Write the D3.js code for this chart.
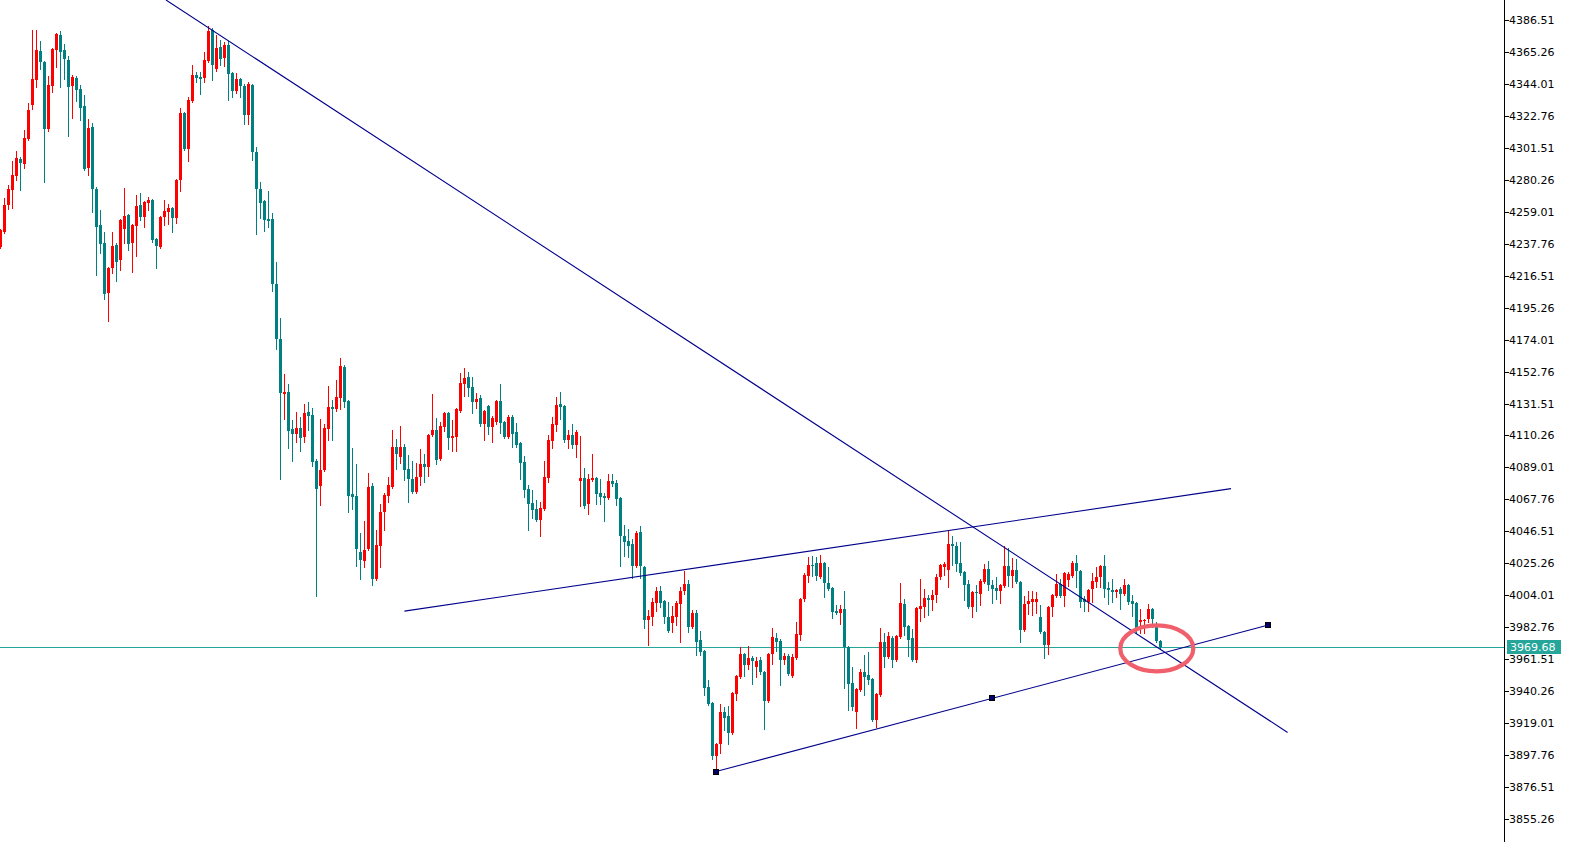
<!DOCTYPE html>
<html>
<head>
<meta charset="utf-8">
<script src="https://cdn.jsdelivr.net/npm/d3@7"></script>
<style>
  html, body { margin: 0; padding: 0; background: #ffffff; overflow: hidden; }
  svg { display: block; }
</style>
</head>
<body>
<svg id="chart" width="1573" height="842"></svg>
<script>
// ---------------- DATA ----------------
const openPrices = [
4235.5,4245.5,4263.5,4273.4,4282.8,4294.1,4290.7,4307.4,4330.0,4346.6,
4365.9,4358.6,4314.0,4342.6,4366.6,4376.5,4366.6,4359.9,4342.6,4347.9,
4340.6,4329.3,4288.1,4315.3,4274.1,4250.2,4238.2,4204.9,4221.6,4236.9,
4226.9,4247.5,4256.8,4238.2,4249.5,4263.5,4255.5,4264.8,4266.8,4240.9,
4235.5,4255.5,4258.8,4261.5,4254.8,4280.1,4324.7,4300.7,4332.6,4349.9,
4348.6,4347.9,4359.2,4379.9,4353.9,4368.5,4361.2,4369.9,4351.3,4339.3,
4347.3,4342.6,4323.3,4343.3,4298.7,4274.1,4266.2,4254.2,4254.2,4210.9,
4174.4,4137.8,4139.1,4114.5,4111.2,4115.2,4109.2,4125.8,4123.8,4093.2,
4076.6,4087.2,4114.5,4129.1,4127.8,4135.1,4155.7,4133.1,4071.3,4070.0,
4032.7,4026.7,4034.7,4076.6,4014.8,4036.7,4059.3,4070.0,4075.9,4102.5,
4095.9,4102.5,4087.9,4081.3,4072.6,4082.6,4091.2,4089.2,4110.5,4113.8,
4094.6,4115.8,4125.2,4108.5,4109.2,4126.5,4144.4,4149.1,4142.5,4132.5,
4135.1,4117.8,4129.8,4115.8,4119.2,4133.1,4119.2,4109.2,4122.5,4112.5,
4105.2,4092.6,4074.6,4065.3,4061.3,4054.0,4061.3,4081.9,4106.5,4117.2,
4131.1,4129.8,4107.2,4110.5,4103.9,4079.9,4081.9,4064.6,4080.6,4081.9,
4071.9,4070.0,4068.6,4079.9,4078.6,4068.6,4043.4,4040.0,4038.0,4023.4,
4046.0,4022.7,3987.5,3989.5,3998.8,4006.8,4000.1,3989.5,3985.5,3989.5,
3998.1,4006.8,4011.4,3982.8,3992.1,3974.2,3966.9,3942.9,3932.3,3897.1,
3905.0,3926.3,3923.7,3912.3,3938.3,3949.6,3964.9,3957.6,3962.2,3956.2,
3960.9,3952.9,3933.6,3964.9,3975.5,3973.5,3960.9,3963.6,3950.3,3962.2,
3977.5,4001.5,4016.8,4024.1,4025.4,4016.1,4025.4,4012.1,4008.8,3993.5,
3992.2,3994.8,3969.5,3945.6,3926.3,3940.9,3952.9,3950.9,3948.3,3921.0,
3937.6,3972.8,3962.9,3975.5,3960.9,3976.2,3998.1,3983.5,3975.5,3960.9,
3994.8,3996.1,4002.1,4000.8,4004.1,4016.1,4022.7,4020.7,4038.0,4036.7,
4025.4,4019.4,4011.4,3996.1,4006.1,4004.8,4012.8,4021.4,4010.8,4008.8,
4006.8,4010.1,4023.4,4016.8,4020.7,4012.8,3980.8,3998.1,3999.5,3999.5,
3989.5,3979.5,3970.8,3996.1,4003.5,4011.4,4003.5,4014.1,4016.8,4025.4,
4020.1,4001.5,3999.5,4008.1,4012.8,4016.1,4023.4,4008.8,4007.5,4006.1,
4008.1,4004.8,4010.8,4000.1,3998.8,3986.2,3986.9,3988.1,3994.8,3984.8,
3973.5
];
const highPrices = [
4247.5,4268.1,4276.8,4292.7,4299.4,4295.4,4313.3,4331.3,4379.9,4379.9,
4372.5,4359.2,4349.3,4367.8,4377.9,4379.2,4370.5,4362.6,4349.9,4349.3,
4343.3,4336.6,4320.7,4318.0,4275.4,4260.2,4245.5,4222.2,4245.5,4238.2,
4254.0,4274.8,4257.4,4250.8,4270.1,4271.5,4266.2,4268.8,4267.5,4241.5,
4256.1,4266.8,4264.1,4262.1,4280.7,4328.0,4325.3,4335.3,4356.6,4351.9,
4351.9,4365.2,4382.5,4381.2,4376.5,4373.2,4371.9,4372.5,4351.9,4351.3,
4347.9,4343.9,4345.3,4343.9,4302.0,4278.8,4266.8,4272.8,4258.2,4225.6,
4188.3,4151.1,4144.4,4120.5,4125.8,4122.5,4131.1,4132.5,4128.5,4094.6,
4121.2,4117.8,4143.1,4133.8,4147.1,4161.7,4157.1,4133.8,4101.9,4091.2,
4045.3,4053.3,4085.3,4078.6,4047.4,4064.6,4071.9,4082.6,4113.8,4107.9,
4116.5,4104.5,4097.2,4093.2,4091.9,4101.2,4097.9,4111.1,4137.8,4121.8,
4119.2,4125.8,4125.8,4120.5,4128.4,4151.8,4155.1,4152.4,4149.1,4138.5,
4137.1,4127.1,4130.4,4123.2,4133.8,4144.4,4119.8,4123.8,4123.8,4118.5,
4105.8,4096.6,4077.3,4073.9,4067.3,4066.0,4093.2,4110.5,4122.5,4135.8,
4139.1,4130.4,4113.8,4117.8,4113.8,4109.9,4088.5,4084.6,4097.9,4082.6,
4081.3,4071.9,4084.6,4084.6,4080.6,4069.3,4050.7,4048.0,4041.4,4046.7,
4050.0,4023.4,3994.1,4002.1,4009.5,4010.1,4000.7,3999.5,3996.8,4000.1,
4009.5,4020.1,4014.1,3994.1,3994.1,3980.2,3967.5,3947.6,3932.9,3905.6,
3931.6,3929.6,3930.3,3939.6,3950.9,3969.5,3965.5,3970.2,3963.6,3962.9,
3962.9,3953.6,3965.5,3982.2,3978.9,3974.9,3965.5,3964.9,3964.9,3986.2,
4002.1,4018.8,4029.4,4030.1,4029.4,4030.7,4026.0,4022.7,4009.4,3997.5,
3997.5,4006.8,3970.1,3956.2,3942.2,3954.9,3964.2,3966.2,3948.9,3938.9,
3982.2,3978.9,3979.5,3976.9,3977.5,4012.1,4001.5,3984.1,3981.5,3996.1,
4014.8,4008.1,4004.1,4007.5,4018.1,4024.7,4026.1,4046.7,4043.4,4039.4,
4039.4,4020.1,4014.1,4006.8,4010.8,4014.8,4024.7,4026.7,4014.1,4016.1,
4011.4,4036.7,4035.4,4028.7,4028.1,4013.4,4003.5,4006.8,4006.8,4006.1,
3997.5,3980.2,3996.8,4004.7,4018.1,4014.8,4019.4,4019.4,4026.7,4030.7,
4020.7,4003.5,4008.1,4018.8,4022.7,4024.1,4030.7,4012.8,4014.8,4008.1,
4009.5,4014.8,4011.4,4004.1,3999.5,3994.8,3988.1,3998.1,3995.5,3986.2,
3974.2
];
const lowPrices = [
4234.9,4244.9,4260.8,4261.5,4280.1,4273.4,4288.1,4306.8,4327.3,4341.9,
4353.9,4278.8,4312.7,4338.6,4355.2,4341.9,4347.3,4309.4,4321.3,4332.6,
4320.0,4286.7,4283.4,4258.8,4216.9,4231.6,4201.0,4186.3,4218.3,4212.9,
4220.3,4238.2,4233.5,4218.9,4229.6,4253.5,4248.9,4260.2,4238.9,4221.6,
4234.9,4250.2,4250.8,4245.5,4251.5,4272.8,4300.1,4292.7,4332.0,4345.3,
4337.3,4345.3,4358.6,4346.6,4352.6,4356.6,4355.9,4333.3,4335.3,4337.9,
4335.3,4317.3,4317.3,4293.4,4244.2,4254.8,4246.2,4248.9,4206.3,4167.7,
4081.3,4121.2,4101.9,4093.2,4105.9,4099.9,4105.9,4113.8,4089.9,4003.5,
4064.0,4086.6,4107.2,4107.2,4126.5,4127.8,4129.1,4059.3,4061.3,4023.4,
4014.8,4022.7,4034.1,4010.8,4014.1,4022.7,4047.4,4066.0,4075.3,4087.9,
4091.9,4080.6,4066.0,4071.9,4071.9,4077.3,4079.3,4083.3,4109.9,4091.2,
4093.9,4113.2,4101.2,4099.9,4099.9,4125.8,4136.5,4136.5,4125.2,4128.5,
4116.5,4107.2,4111.2,4105.9,4117.8,4111.9,4108.6,4108.5,4102.5,4102.5,
4081.3,4069.3,4047.4,4055.3,4053.3,4043.4,4060.6,4079.3,4101.9,4113.2,
4121.2,4105.9,4101.9,4101.9,4095.9,4063.3,4062.0,4058.0,4080.0,4064.6,
4064.6,4053.3,4068.0,4076.6,4064.0,4023.4,4030.1,4029.4,4015.4,4022.8,
4015.4,3982.2,3970.8,3984.2,3993.5,3996.1,3985.5,3979.5,3979.5,3984.2,
3972.8,4004.8,3979.5,3982.2,3964.1,3964.1,3937.6,3931.0,3895.1,3887.2,
3899.1,3914.4,3905.0,3911.7,3934.3,3949.0,3950.3,3954.9,3944.9,3949.6,
3951.6,3915.0,3933.0,3958.2,3966.9,3944.3,3958.2,3950.9,3949.7,3961.6,
3974.2,4000.1,4012.8,4016.8,4014.1,4015.5,4002.8,4007.5,3988.8,3991.5,
3984.8,3942.3,3927.7,3927.7,3915.7,3940.3,3937.6,3944.9,3920.4,3916.4,
3937.0,3956.2,3962.3,3956.2,3960.3,3975.6,3977.5,3963.6,3960.3,3959.6,
3986.8,3989.5,3990.8,3994.1,3999.5,4014.8,4017.4,4009.5,4024.1,4020.1,
4017.4,4000.8,3995.5,3989.5,3993.5,3997.5,4012.1,4007.5,3998.8,4001.5,
3998.8,4009.5,4010.1,4009.5,4012.1,3972.8,3980.2,3991.5,3990.8,3992.2,
3978.9,3962.2,3964.9,3990.1,4002.9,4002.9,3996.8,4010.1,4016.1,4009.5,
3996.1,3993.5,3993.5,3999.5,4009.5,4009.5,4002.8,3998.1,3999.5,4002.8,
3994.8,4004.1,3998.1,3990.1,3978.9,3978.9,3978.9,3986.2,3982.8,3972.8,
3968.9
];
const closePrices = [
4246.9,4263.5,4274.1,4283.4,4294.7,4291.4,4308.0,4326.7,4347.3,4366.6,
4358.6,4314.0,4343.3,4367.2,4377.2,4365.2,4360.6,4341.9,4348.6,4339.9,
4328.0,4287.4,4314.7,4274.1,4248.9,4237.5,4204.3,4221.6,4236.2,4225.6,
4253.5,4256.2,4237.5,4250.2,4262.8,4255.5,4265.5,4266.8,4240.2,4236.2,
4255.5,4259.5,4261.5,4254.8,4280.1,4324.7,4300.7,4333.3,4349.9,4347.9,
4347.3,4359.9,4379.2,4356.6,4367.9,4360.6,4369.9,4350.6,4339.3,4347.3,
4342.6,4323.3,4343.9,4298.7,4274.1,4264.8,4253.5,4252.8,4210.9,4174.4,
4138.5,4139.1,4113.2,4111.2,4115.2,4108.5,4125.2,4123.2,4092.6,4074.6,
4087.2,4115.2,4129.1,4127.8,4135.8,4156.4,4132.5,4070.0,4069.3,4034.7,
4027.4,4034.1,4075.9,4014.8,4037.4,4059.3,4070.6,4077.3,4102.5,4097.9,
4102.5,4087.2,4081.3,4072.6,4082.6,4091.2,4089.2,4110.5,4113.8,4093.9,
4116.5,4125.2,4108.5,4109.9,4127.8,4145.1,4148.4,4141.8,4132.5,4134.5,
4117.8,4126.5,4115.8,4121.8,4133.1,4118.5,4109.2,4122.5,4111.2,4103.9,
4091.9,4073.9,4064.6,4060.6,4054.0,4062.0,4082.6,4107.2,4117.8,4130.5,
4129.1,4107.2,4110.5,4103.9,4112.5,4081.9,4063.3,4081.3,4081.9,4071.3,
4069.3,4068.6,4079.9,4077.9,4068.0,4043.4,4039.4,4036.7,4023.4,4045.3,
4023.4,3987.5,3990.1,3999.5,4006.8,3998.8,3989.5,3980.2,3990.1,3998.8,
4006.8,4011.4,3982.8,3992.1,3972.8,3966.2,3942.3,3931.6,3897.1,3905.0,
3926.3,3922.3,3912.3,3938.9,3950.3,3964.9,3957.6,3962.2,3960.2,3960.2,
3952.9,3933.6,3964.9,3976.2,3972.8,3960.9,3963.6,3951.6,3962.9,3978.2,
4001.5,4017.4,4024.1,4023.4,4016.8,4025.4,4012.1,4008.1,3992.8,3992.2,
3994.8,3969.5,3944.9,3929.6,3941.6,3952.9,3949.6,3947.6,3921.0,3938.3,
3972.8,3962.9,3976.9,3960.9,3976.9,3998.8,3982.8,3974.2,3960.9,3995.5,
3996.8,4002.1,4000.8,4004.1,4016.1,4024.1,4024.7,4038.0,4036.7,4024.7,
4018.8,4010.8,3996.1,4006.1,4005.5,4013.4,4021.4,4010.8,4008.1,4006.8,
4010.8,4023.4,4016.8,4020.7,4012.8,3980.8,3998.1,4000.1,4001.5,4001.5,
3979.5,3970.8,3996.1,4004.1,4011.4,4003.5,4018.8,4018.1,4025.4,4020.1,
3999.5,3999.5,4007.5,4013.4,4016.1,4023.4,4008.1,4007.5,4006.1,4007.5,
4004.8,4010.8,3999.5,3998.1,3980.8,3987.5,3987.5,3994.8,3988.1,3973.5,
3969.68
];

const yTickLabels = [
"4386.51","4365.26","4344.01","4322.76","4301.51","4280.26","4259.01",
"4237.76","4216.51","4195.26","4174.01","4152.76","4131.51","4110.26",
"4089.01","4067.76","4046.51","4025.26","4004.01","3982.76","3961.51",
"3940.26","3919.01","3897.76","3876.51","3855.26"
];
const currentPrice = 3969.68;

// trend lines: anchors as [bar index, price]
const downTrend   = [[41.5, 4399.8], [321.9, 3912.8]];
const upperTrend  = [[101.1, 3993.5], [307.75, 4074.9]];
const lowerTrend  = [[179, 3886.8], [248.05, 3935.5], [317.1, 3984.2]];
const highlightAt = [289.2, 3968.7];

// ---------------- CHART ----------------
const W = 1573, H = 842;
const axisX = 1504;
const svg = d3.select("#chart");

const x = d3.scaleLinear().domain([0, 290]).range([0, 1160]);
const y = d3.scaleLinear().domain([3855.26, 4386.51]).range([819, 20]);

const UP = "#ff0000", DOWN = "#008080";
const LINE = "#00008b";
const PRICE = "#26a69a";

const plot = svg.append("g");
plot.append("clipPath").attr("id", "plotClip")
  .append("rect").attr("x", 0).attr("y", 0).attr("width", axisX).attr("height", H);
const g = plot.append("g").attr("clip-path", "url(#plotClip)");

// current price line
g.append("line")
  .attr("x1", 0).attr("x2", axisX)
  .attr("y1", Math.round(y(currentPrice)) + 0.5).attr("y2", Math.round(y(currentPrice)) + 0.5)
  .attr("stroke", PRICE).attr("stroke-width", 1);

// candles
const candles = d3.range(openPrices.length).map(i => ({
  i, o: openPrices[i], h: highPrices[i], l: lowPrices[i], c: closePrices[i]
}));
const cg = g.append("g").attr("shape-rendering", "crispEdges");
cg.selectAll("rect.wick").data(candles).join("rect")
  .attr("class", "wick")
  .attr("x", d => Math.round(x(d.i)))
  .attr("width", 1)
  .attr("y", d => Math.round(y(d.h)))
  .attr("height", d => Math.max(1, Math.round(y(d.l)) - Math.round(y(d.h)) + 1))
  .attr("fill", d => d.c >= d.o ? UP : DOWN);
cg.selectAll("rect.body").data(candles).join("rect")
  .attr("class", "body")
  .attr("x", d => Math.round(x(d.i)) - 1)
  .attr("width", 3)
  .attr("y", d => Math.round(y(Math.max(d.o, d.c))))
  .attr("height", d => Math.max(1, Math.round(y(Math.min(d.o, d.c))) - Math.round(y(Math.max(d.o, d.c)))))
  .attr("fill", d => d.c >= d.o ? UP : DOWN);

// trend lines
const lineGen = d3.line().x(d => x(d[0])).y(d => y(d[1]));
[downTrend, upperTrend, lowerTrend].forEach(pts => {
  g.append("path").attr("d", lineGen([pts[0], pts[pts.length - 1]]))
    .attr("fill", "none").attr("stroke", LINE).attr("stroke-width", 1.1);
});
// anchor markers on the lower line
g.selectAll("rect.marker").data(lowerTrend).join("rect")
  .attr("class", "marker")
  .attr("x", d => Math.round(x(d[0])) - 2.5).attr("y", d => Math.round(y(d[1])) - 2.5)
  .attr("width", 5).attr("height", 5)
  .attr("fill", "#000066").attr("stroke", "#000000").attr("stroke-width", 1);

// highlight ellipse
g.append("ellipse")
  .attr("cx", x(highlightAt[0])).attr("cy", y(highlightAt[1]))
  .attr("rx", 36.5).attr("ry", 23)
  .attr("fill", "none").attr("stroke", "#f0606c").attr("stroke-width", 4.2);

// right price axis
const ax = svg.append("g");
ax.append("line").attr("x1", axisX + 0.5).attr("x2", axisX + 0.5).attr("y1", 0).attr("y2", H)
  .attr("stroke", "#000").attr("stroke-width", 1);
const tickG = ax.selectAll("g.tick").data(yTickLabels).join("g")
  .attr("class", "tick")
  .attr("transform", d => `translate(0,${Math.round(y(+d)) + 0.5})`);
tickG.append("line").attr("x1", axisX).attr("x2", axisX + 5).attr("stroke", "#000").attr("stroke-width", 1);
tickG.append("text").attr("x", axisX + 5).attr("y", 0).attr("dy", "0.36em")
  .attr("font-family", "DejaVu Sans, Verdana, sans-serif").attr("font-size", 11)
  .attr("fill", "#000").text(d => d);

// current price label
const py = Math.round(y(currentPrice));
ax.append("rect").attr("x", axisX + 3).attr("y", py - 7).attr("width", 54).attr("height", 14)
  .attr("fill", PRICE);
ax.append("text").attr("x", axisX + 6).attr("y", py).attr("dy", "0.36em")
  .attr("font-family", "DejaVu Sans, Verdana, sans-serif").attr("font-size", 11)
  .attr("fill", "#fff").text(currentPrice.toFixed(2));
</script>
</body>
</html>
